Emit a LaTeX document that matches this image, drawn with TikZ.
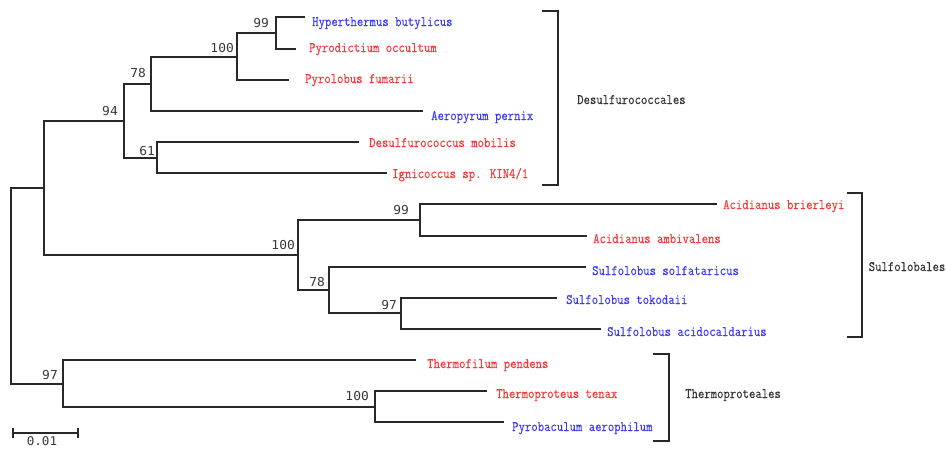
\documentclass[tikz,border=0pt]{standalone}
\usepackage{fontspec}
\newfontfamily\taxfont{Latin Modern Mono}[FakeStretch=0.86,FakeBold=0.3]
\newfontfamily\bootfont{DejaVu Sans Mono}[FakeStretch=1.05]
\definecolor{taxred}{RGB}{250,55,55}
\definecolor{taxblue}{RGB}{58,58,245}
\definecolor{linegray}{RGB}{40,40,40}
\definecolor{bootgray}{RGB}{55,55,55}
\tikzset{
  branch/.style={draw=linegray, line width=1.2pt},
  brk/.style={draw=linegray, line width=1.4pt},
  taxon/.style={anchor=base west, inner sep=0pt, font=\taxfont\fontsize{14.4}{16}\selectfont},
  redtax/.style={taxon, text=taxred},
  bluetax/.style={taxon, text=taxblue},
  order/.style={taxon, text=black!80},
  boot/.style={anchor=base east, inner sep=0pt, text=bootgray, font=\bootfont\fontsize{12.3}{14}\selectfont},
}
\begin{document}
\begin{tikzpicture}[x=1pt, y=-1pt]
\useasboundingbox (0,0) rectangle (946,448);
% internal nodes
\coordinate (R) at (11,286);
\coordinate (A) at (44,188);
\coordinate (n94) at (124,121);
\coordinate (n78) at (151,84);
\coordinate (n100) at (237,57);
\coordinate (n99) at (276,33);
\coordinate (n61) at (157,158);
\coordinate (n100s) at (298,255);
\coordinate (n99s) at (420,220);
\coordinate (n78s) at (329,290);
\coordinate (n97s) at (401,313);
\coordinate (n97t) at (63,384);
\coordinate (n100t) at (375,407);
% leaf ends
\coordinate (lHyp) at (305,17);
\coordinate (lPyd) at (296,49);
\coordinate (lPyl) at (289,80);
\coordinate (lAer) at (423,111);
\coordinate (lDes) at (359,142);
\coordinate (lIgn) at (387,173);
\coordinate (lAcb) at (717,204);
\coordinate (lAca) at (587,236);
\coordinate (lSso) at (586,267);
\coordinate (lSto) at (557,298);
\coordinate (lSac) at (601,329);
\coordinate (lThf) at (416,360);
\coordinate (lTht) at (487,391);
\coordinate (lPba) at (504,422);
% branches
\draw[branch] (R) |- (A);
\draw[branch] (R) |- (n97t);
\draw[branch] (A) |- (n94);
\draw[branch] (A) |- (n100s);
\draw[branch] (n94) |- (n78);
\draw[branch] (n94) |- (n61);
\draw[branch] (n78) |- (n100);
\draw[branch] (n78) |- (lAer);
\draw[branch] (n100) |- (n99);
\draw[branch] (n100) |- (lPyl);
\draw[branch] (n99) |- (lHyp);
\draw[branch] (n99) |- (lPyd);
\draw[branch] (n61) |- (lDes);
\draw[branch] (n61) |- (lIgn);
\draw[branch] (n100s) |- (n99s);
\draw[branch] (n100s) |- (n78s);
\draw[branch] (n99s) |- (lAcb);
\draw[branch] (n99s) |- (lAca);
\draw[branch] (n78s) |- (lSso);
\draw[branch] (n78s) |- (n97s);
\draw[branch] (n97s) |- (lSto);
\draw[branch] (n97s) |- (lSac);
\draw[branch] (n97t) |- (lThf);
\draw[branch] (n97t) |- (n100t);
\draw[branch] (n100t) |- (lTht);
\draw[branch] (n100t) |- (lPba);
% bootstrap values
\node[boot] (b99) at (269,27) {99};
\node[boot] (b100) at (234,52) {100};
\node[boot] (b78) at (146,77) {78};
\node[boot] (b94) at (118,115) {94};
\node[boot] (b61) at (155,155) {61};
\node[boot] (b99s) at (409,214) {99};
\node[boot] (b100s) at (295,249) {100};
\node[boot] (b78s) at (325,286) {78};
\node[boot] (b97s) at (397,309) {97};
\node[boot] (b97t) at (58,379) {97};
\node[boot] (b100t) at (369,400) {100};
% taxa
\node[bluetax] (tHyp) at (312,26) {Hyperthermus butylicus};
\node[redtax] (tPyd) at (309,52) {Pyrodictium occultum};
\node[redtax] (tPyl) at (305,83) {Pyrolobus fumarii};
\node[bluetax] (tAer) at (431,120) {Aeropyrum pernix};
\node[redtax] (tDes) at (369,147) {Desulfurococcus mobilis};
\node[redtax] (tIgn) at (392,178) {Ignicoccus sp. KIN4/1};
\node[redtax] (tAcb) at (723,209) {Acidianus brierleyi};
\node[redtax] (tAca) at (593,243) {Acidianus ambivalens};
\node[bluetax] (tSso) at (592,275) {Sulfolobus solfataricus};
\node[bluetax] (tSto) at (566,304) {Sulfolobus tokodaii};
\node[bluetax] (tSac) at (607,336) {Sulfolobus acidocaldarius};
\node[redtax] (tThf) at (427,368) {Thermofilum pendens};
\node[redtax] (tTht) at (496,398) {Thermoproteus tenax};
\node[bluetax] (tPba) at (512,431) {Pyrobaculum aerophilum};
% brackets
\coordinate (k1a) at (542,11); \coordinate (k1b) at (558,11);
\coordinate (k1c) at (558,185); \coordinate (k1d) at (542,185);
\draw[brk] (k1a) -- (k1b) -- (k1c) -- (k1d);
\node[order] (oDes) at (577,104) {Desulfurococcales};
\coordinate (k2a) at (847,193); \coordinate (k2b) at (862,193);
\coordinate (k2c) at (862,337); \coordinate (k2d) at (847,337);
\draw[brk] (k2a) -- (k2b) -- (k2c) -- (k2d);
\node[order, anchor=base east] (oSul) at (945.5,271) {Sulfolobales};
\coordinate (k3a) at (653,354); \coordinate (k3b) at (669,354);
\coordinate (k3c) at (669,441); \coordinate (k3d) at (653,441);
\draw[brk] (k3a) -- (k3b) -- (k3c) -- (k3d);
\node[order] (oThp) at (685,398) {Thermoproteales};
% scale bar
\coordinate (s1) at (13,433); \coordinate (s2) at (78,433);
\draw[branch] (s1) -- (s2);
\draw[branch] ([yshift=-5pt]s1) -- ([yshift=5pt]s1);
\draw[branch] ([yshift=-5pt]s2) -- ([yshift=5pt]s2);
\node[inner sep=0pt, anchor=base, text=bootgray, font=\bootfont\fontsize{12}{14}\selectfont] (sl) at (42,445) {0.01};
\end{tikzpicture}
\end{document}
